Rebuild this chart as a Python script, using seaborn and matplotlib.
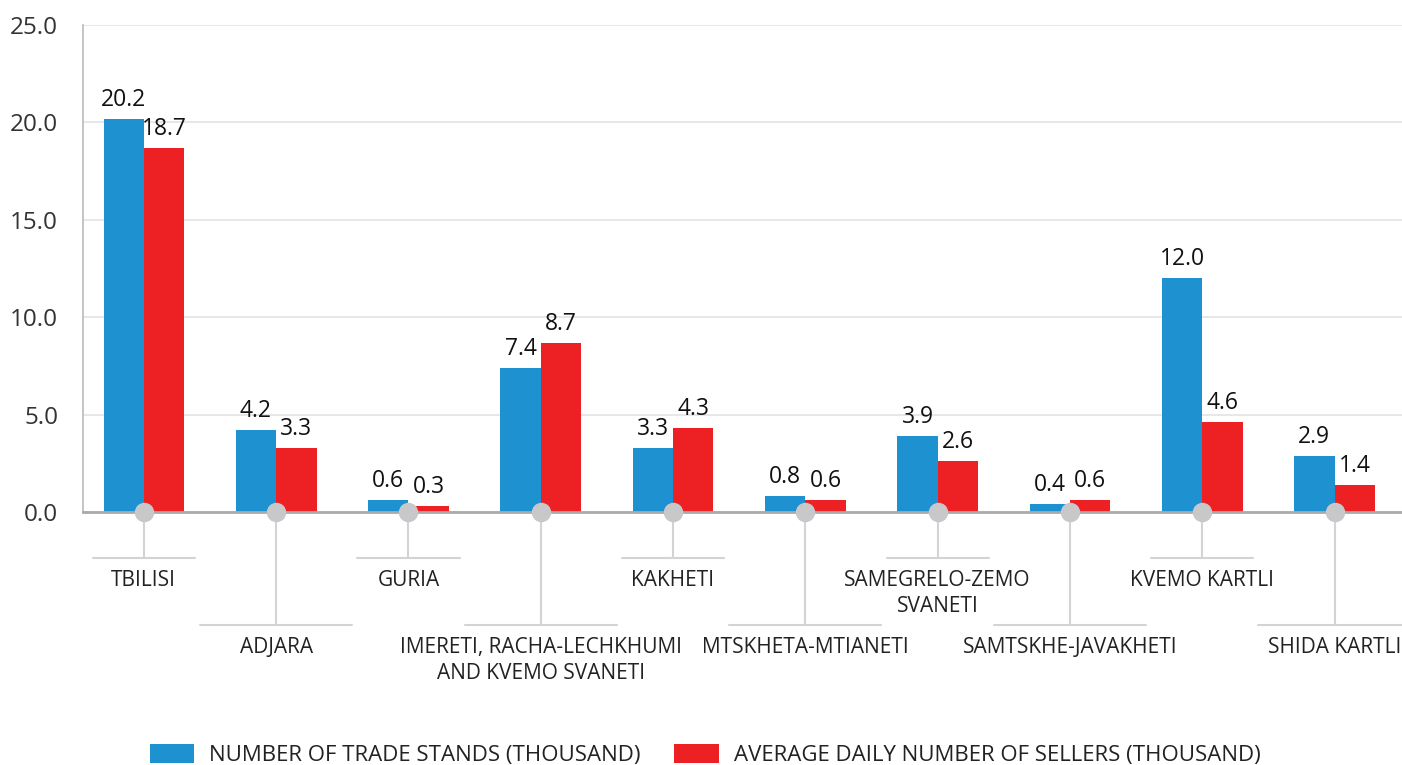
import pandas as pd
import numpy as np
import matplotlib.pyplot as plt
import matplotlib.transforms as mtransforms
import seaborn as sns

# Data
regions = ["TBILISI", "ADJARA", "GURIA", "IMERETI, RACHA-LECHKHUMI\nAND KVEMO SVANETI",
           "KAKHETI", "MTSKHETA-MTIANETI", "SAMEGRELO-ZEMO\nSVANETI",
           "SAMTSKHE-JAVAKHETI", "KVEMO KARTLI", "SHIDA KARTLI"]
trade_stands = [20.2, 4.2, 0.6, 7.4, 3.3, 0.8, 3.9, 0.4, 12.0, 2.9]
sellers = [18.7, 3.3, 0.3, 8.7, 4.3, 0.6, 2.6, 0.6, 4.6, 1.4]
series_names = ["NUMBER OF TRADE STANDS (THOUSAND)", "AVERAGE DAILY NUMBER OF SELLERS (THOUSAND)"]
yticks = [0, 5, 10, 15, 20, 25]

df = pd.DataFrame({
    "region": regions * 2,
    "value": trade_stands + sellers,
    "series": [series_names[0]] * len(regions) + [series_names[1]] * len(regions),
})

sns.set_style("white")
plt.rcParams["font.family"] = ["Open Sans", "DejaVu Sans"]

fig = plt.figure(figsize=(14.02, 7.65), dpi=100)
ax = fig.add_axes([83 / 1402, 1 - 512 / 765, 1 - 83 / 1402, (512 - 25) / 765])

sns.barplot(data=df, x="region", y="value", hue="series", order=regions,
            hue_order=series_names, palette=["#1e91d0", "#ed2024"],
            width=0.61, saturation=1, linewidth=0, ax=ax, zorder=3)

handles, labels = ax.get_legend_handles_labels()
ax.get_legend().remove()

for cont in ax.containers:
    ax.bar_label(cont, fmt="%.1f", padding=5, fontsize=16.5, color="#111111")

ax.set_xlim(-0.46, 9.51)
ax.set_ylim(0, 25)
ax.set_yticks(yticks)
ax.set_yticklabels([f"{v:.1f}" for v in yticks], fontsize=17.5, color="#333333")
ax.tick_params(axis="y", length=8, width=1.2, color="#bbbbbb", pad=10)
ax.tick_params(axis="x", length=0, labelbottom=False)
ax.set_xlabel("")
ax.set_ylabel("")
ax.grid(axis="y", color="#e3e3e3", linewidth=1.2, zorder=0)
ax.set_axisbelow(True)
for s in ["top", "right"]:
    ax.spines[s].set_visible(False)
ax.spines["left"].set_color("#bbbbbb")
ax.spines["left"].set_linewidth(1.2)
ax.spines["bottom"].set_color("#aaaaaa")
ax.spines["bottom"].set_linewidth(2)
ax.spines["bottom"].set_zorder(4)

# lollipop connectors and category labels below the axis
trans = mtransforms.blended_transform_factory(ax.transData, ax.transAxes)
axh = (512 - 25)
for i, name in enumerate(regions):
    if i % 2 == 0:
        yline, half, ytext = -46 / axh, 0.386, -58 / axh
    else:
        yline, half, ytext = -113 / axh, 0.575, -125 / axh
    ax.plot([i, i], [0, yline], color="#d3d3d3", lw=1.5, transform=trans, clip_on=False, zorder=2)
    ax.plot([i - half, i + half], [yline, yline], color="#d3d3d3", lw=1.5,
            transform=trans, clip_on=False, zorder=2)
    ax.plot([i], [0], marker="o", markersize=13, color="#c8c8ca", transform=trans,
            clip_on=False, zorder=6)
    ax.text(i, ytext, name, transform=trans, ha="center", va="top", fontsize=15,
            color="#222222", linespacing=1.3)

fig.legend(handles, labels, loc="center", bbox_to_anchor=(0.503, 0.013), ncol=2,
           frameon=False, fontsize=16, handlelength=2.0, handleheight=0.9,
           handletextpad=0.68, columnspacing=1.5, labelcolor="#222222")

fig.savefig("out.png", dpi=100)
